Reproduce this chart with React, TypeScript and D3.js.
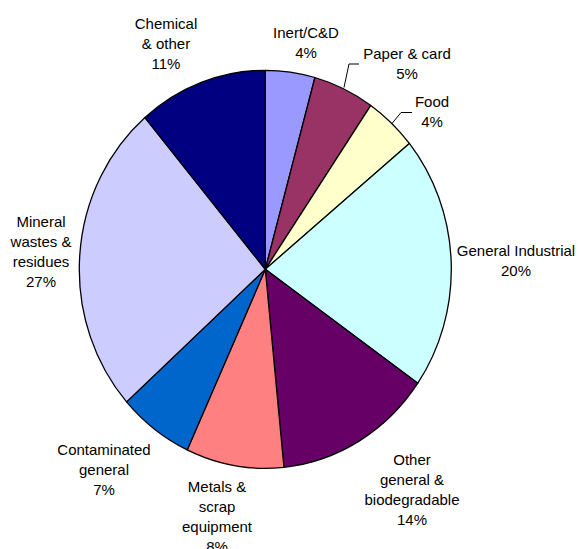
import { useEffect, useRef } from "react"
import * as d3 from "d3"

// slices clockwise from 12 o'clock
const categories = [
  "Inert/C&D",
  "Paper & card",
  "Food",
  "General Industrial",
  "Other general & biodegradable",
  "Metals & scrap equipment",
  "Contaminated general",
  "Mineral wastes & residues",
  "Chemical & other",
]
const values = [4.3, 5.3, 4.5, 20.6, 13.7, 8.5, 6.5, 25.4, 11.2]
const percentLabels = ["4%", "5%", "4%", "20%", "14%", "8%", "7%", "27%", "11%"]
const labelLines = [
  ["Inert/C&D"],
  ["Paper & card"],
  ["Food"],
  ["General Industrial"],
  ["Other", "general &", "biodegradable"],
  ["Metals &", "scrap", "equipment"],
  ["Contaminated", "general"],
  ["Mineral", "wastes &", "residues"],
  ["Chemical", "& other"],
]
const colors = ["#9999FF", "#993366", "#FFFFCC", "#CCFFFF", "#660066", "#FF8080", "#0066CC", "#CCCCFF", "#000080"]

// label anchor (centre x, first baseline y)
const labelPos: [number, number][] = [
  [306, 37.5],
  [407, 58.5],
  [432, 107],
  [516, 256],
  [412, 464.5],
  [217, 491.5],
  [104, 454.5],
  [41, 227],
  [166, 28.5],
]
// leader lines for the two small slices
const leaders: [number, number][][] = [
  [[344, 87.5], [349, 64], [359, 64]],
  [[392, 123.5], [401, 112.5], [412, 112.5]],
]

export default function App() {
  const svgRef = useRef<SVGSVGElement>(null)

  useEffect(() => {
    const svg = d3.select(svgRef.current)
    svg.selectAll("*").remove()
    const cx = 265.3, cy = 269.3, r = 186, sy = 1.07

    const pie = d3.pie<number>().sort(null).value(d => d)
    const arc = d3.arc<d3.PieArcDatum<number>>().innerRadius(0).outerRadius(r)

    const g = svg.append("g")
      .attr("transform", `translate(${cx},${cy}) scale(1,${sy})`)

    g.selectAll("path")
      .data(pie(values))
      .join("path")
      .attr("d", arc)
      .attr("fill", (d, i) => colors[i])
      .attr("stroke", "#000")
      .attr("stroke-width", 1.3)
      .attr("vector-effect", "non-scaling-stroke")
      .attr("stroke-linejoin", "round")

    const line = d3.line()
    svg.selectAll("path.leader")
      .data(leaders)
      .join("path")
      .attr("class", "leader")
      .attr("d", d => line(d))
      .attr("fill", "none")
      .attr("stroke", "#000")
      .attr("stroke-width", 1)

    const labels = svg.append("g")
      .attr("font-family", "'Liberation Sans', Arial, sans-serif")
      .attr("font-size", 15)
      .attr("fill", "#000")
      .attr("text-anchor", "middle")

    categories.forEach((c, i) => {
      const [x, y] = labelPos[i]
      const t = labels.append("text").attr("x", x).attr("y", y)
      const lines = [...labelLines[i], percentLabels[i]]
      lines.forEach((s, j) => {
        t.append("tspan").attr("x", x).attr("y", y + j * 20).text(s)
      })
    })
  }, [])

  return (
    <svg
      ref={svgRef}
      width={579}
      height={549}
      style={{ position: "absolute", left: 0, top: 0, background: "#fff" }}
    />
  )
}
